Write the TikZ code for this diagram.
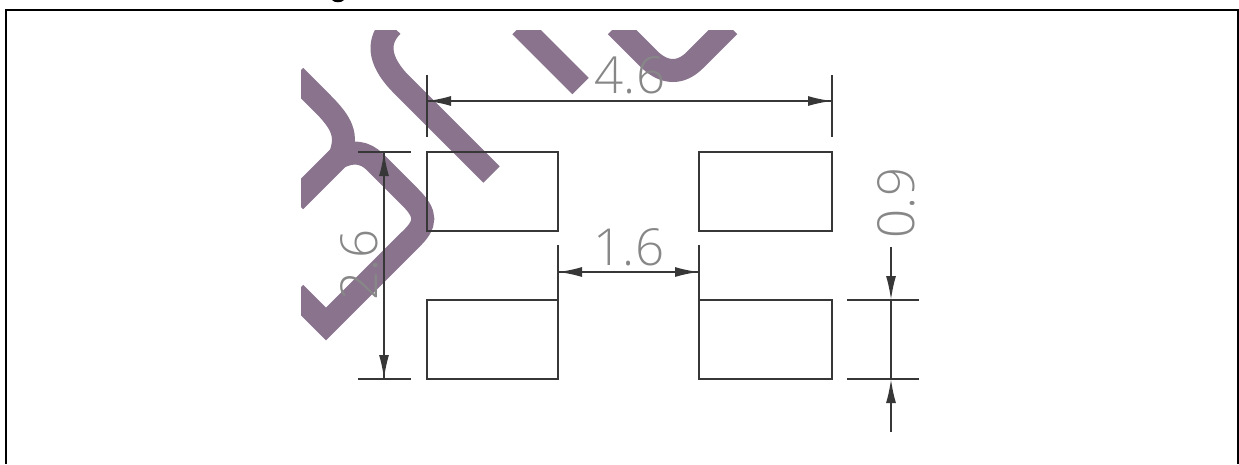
\documentclass[tikz,border=0pt]{standalone}
\usepackage{fontspec}
\newfontfamily\dimfont{Open Sans Light}
\usetikzlibrary{arrows.meta}
\definecolor{markcol}{RGB}{137,115,141}
\definecolor{linecol}{RGB}{55,55,55}
\tikzset{
  padbox/.style = {draw=linecol, line width=2pt, inner sep=0pt, outer sep=0pt,
    minimum height=79pt},
  dimline/.style = {draw=linecol, line width=1.9pt},
  tip/.style = {-{Latex[length=24pt,width=10pt]}},
  dimtext/.style = {text=black!47, inner sep=0pt,
    font=\dimfont\fontsize{51}{51}\selectfont},
  markline/.style = {draw=markcol, line width=23pt, line join=miter}
}
\begin{document}
\begin{tikzpicture}[x=1pt,y=-1pt]
    \useasboundingbox (0,0) rectangle (1239,464);
    % frame, open at the bottom
    \coordinate (frameBL) at (6,464);
    \coordinate (frameTL) at (6,10);
    \coordinate (frameTR) at (1238,10);
    \coordinate (frameBR) at (1238,464);
    \draw[line width=2pt] (frameBL) -- (frameTL) -- (frameTR) -- (frameBR);
    \fill (332,0) .. controls (334,3) and (342,3) .. (344,0) -- cycle;
    % watermark
    \begin{scope}
      \clip (301,30) rectangle (1000,400);
      \draw[markline] (392,26) .. controls (378,40) and (377,59) .. (400,83) -- (491.5,174.5);
      \draw[markline] (520.5,26) -- (580.5,86);
      \draw[markline] (616,26) -- (650,60) .. controls (664,73) and (680,75) .. (695,60) -- (729,26);
      \draw[markline] (295,201) -- (338,158) .. controls (352,150) and (365,152) .. (375,162)
      -- (410,197) .. controls (427,214) and (427,224) .. (410,240)
      -- (326,324) -- (295,293);
      \draw[markline] (295,76) -- (322,103) .. controls (342,123) and (348,135) .. (340,156);
    \end{scope}
    % pads
    \node[padbox, minimum width=131pt] (padTL) at (492.5,191.5) {};
    \node[padbox, minimum width=133pt] (padTR) at (765.5,191.5) {};
    \node[padbox, minimum width=131pt] (padBL) at (492.5,339.5) {};
    \node[padbox, minimum width=133pt] (padBR) at (765.5,339.5) {};
    % 4.6
    \coordinate (widthLa) at (427,75);
    \coordinate (widthLb) at (427,137);
    \coordinate (widthRa) at (832,75);
    \coordinate (widthRb) at (832,137);
    \coordinate (widthL) at (427,101);
    \coordinate (widthR) at (832,101);
    \draw[dimline] (widthLa) -- (widthLb);
    \draw[dimline] (widthRa) -- (widthRb);
    \draw[dimline, tip] (widthL) -- (widthR);
    \draw[dimline, tip] (widthR) -- (widthL);
    \node[dimtext] (widthText) at (630,75) {4.6};
    % 1.6
    \coordinate (gapLa) at (558,245);
    \coordinate (gapRa) at (699,245);
    \coordinate (gapL) at (558,272);
    \coordinate (gapR) at (699,272);
    \draw[dimline] (gapLa) -- (padBL.north east);
    \draw[dimline] (gapRa) -- (padBR.north west);
    \draw[dimline, tip] (gapL) -- (gapR);
    \draw[dimline, tip] (gapR) -- (gapL);
    \node[dimtext] (gapText) at (629,247) {1.6};
    % 2.6
    \coordinate (heightTa) at (358,152);
    \coordinate (heightTb) at (411,152);
    \coordinate (heightBa) at (358,379);
    \coordinate (heightBb) at (411,379);
    \coordinate (heightT) at (384,152);
    \coordinate (heightB) at (384,379);
    \draw[dimline] (heightTa) -- (heightTb);
    \draw[dimline] (heightBa) -- (heightBb);
    \draw[dimline, tip] (heightT) -- (heightB);
    \draw[dimline, tip] (heightB) -- (heightT);
    \node[dimtext, rotate=90] (heightText) at (359,265) {2.6};
    % 0.9
    \coordinate (padHTa) at (847,300);
    \coordinate (padHTb) at (919,300);
    \coordinate (padHBa) at (847,379);
    \coordinate (padHBb) at (919,379);
    \coordinate (padHT) at (891,300);
    \coordinate (padHB) at (891,379);
    \coordinate (padHUp) at (891,247);
    \coordinate (padHDown) at (891,432);
    \draw[dimline] (padHTa) -- (padHTb);
    \draw[dimline] (padHBa) -- (padHBb);
    \draw[dimline] (padHT) -- (padHB);
    \draw[dimline, tip] (padHUp) -- (padHT);
    \draw[dimline, tip] (padHDown) -- (padHB);
    \node[dimtext, rotate=90] (padHText) at (896,203) {0.9};
\end{tikzpicture}
\end{document}
